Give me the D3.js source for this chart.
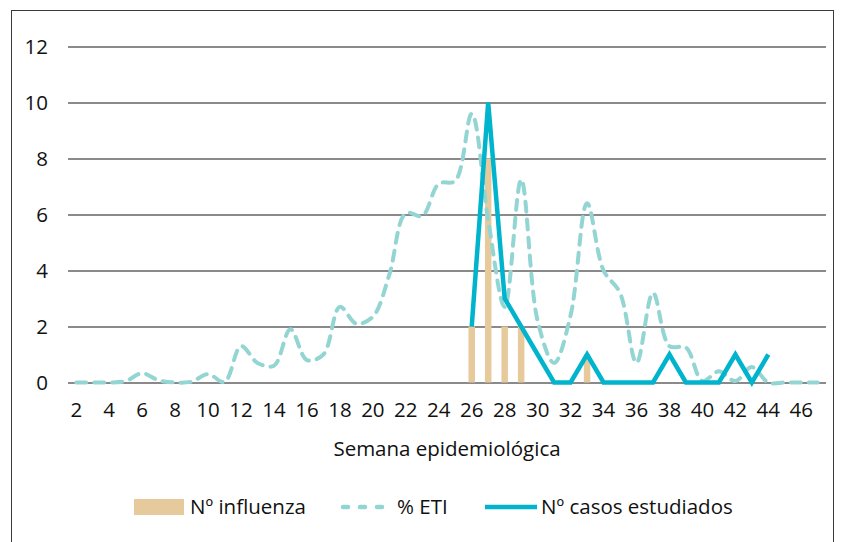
<!DOCTYPE html>
<html>
<head>
<meta charset="utf-8">
<script src="https://cdn.jsdelivr.net/npm/d3@7"></script>
<style>
  html, body { margin: 0; padding: 0; background: #fff; }
  svg { display: block; }
  text { font-family: "Open Sans", "Noto Sans", sans-serif; fill: #111; }
</style>
</head>
<body>
<svg id="chart" width="844" height="542"></svg>
<script>
// ---- data ----
const weeks = [2,3,4,5,6,7,8,9,10,11,12,13,14,15,16,17,18,19,20,21,22,23,24,25,26,27,28,29,30,31,32,33,34,35,36,37,38,39,40,41,42,43,44,45,46,47];
const weekTicks = [2,4,6,8,10,12,14,16,18,20,22,24,26,28,30,32,34,36,38,40,42,44,46];
const yTicks = [0,2,4,6,8,10,12];
const influenza = [null,null,null,null,null,null,null,null,null,null,null,null,null,null,null,null,null,null,null,null,null,null,null,null,
  2,8,2,2,0,0,0,1,0,0,0,0,0,0,0,0,0,0,0,null,null,null];
const eti = [0,0,0,0.05,0.33,0.08,0,0.03,0.3,0.02,1.3,0.7,0.6,1.9,0.8,1.0,2.7,2.1,2.35,3.85,6.05,5.95,7.1,7.2,
  9.6,5.8,2.7,7.25,2.2,0.7,2.4,6.4,4.0,3.2,0.7,3.2,1.3,1.25,0.05,0.4,0.05,0.55,0,0,0,0];
const casos = [null,null,null,null,null,null,null,null,null,null,null,null,null,null,null,null,null,null,null,null,null,null,null,null,
  2,10,3,2,1,0,0,1,0,0,0,0,1,0,0,0,1,0,1,null,null,null];
const seriesNames = ["Nº influenza", "% ETI", "Nº casos estudiados"];
const xTitle = "Semana epidemiológica";

(function () {
// ---- styles ----
const colBar = "#E6CA9C", colEti = "#93D5D3", colCasos = "#00B4CD";

const svg = d3.select("#chart");
const pLeft = 68, pRight = 826, pTop = 46.5, pBottom = 382.5;

// frame
svg.append("rect").attr("x", 11.5).attr("y", 10.5).attr("width", 822).attr("height", 600)
  .attr("fill", "none").attr("stroke", "#3a3a3a").attr("stroke-width", 1);

const x = d3.scaleBand().domain(weeks).range([pLeft, pRight]).paddingInner(0).paddingOuter(0);
const y = d3.scaleLinear().domain([0, 12]).range([pBottom, pTop]);
const cx = w => x(w) + x.bandwidth() / 2;

// y axis + gridlines
const yAxis = svg.append("g").attr("transform", `translate(${pLeft},0)`)
  .call(d3.axisLeft(y).tickValues(yTicks).tickSize(-(pRight - pLeft)).tickPadding(20).tickFormat(d3.format("d")));
yAxis.select(".domain").remove();
yAxis.selectAll("line").attr("stroke", "#8a8a8a").attr("stroke-width", 1.8);
yAxis.selectAll("text").style("font-size", "20.5px").attr("fill", "#111");

// x axis labels
const xAxis = svg.append("g").attr("transform", `translate(0,${pBottom})`)
  .call(d3.axisBottom(x).tickValues(weekTicks).tickSize(0).tickPadding(20));
xAxis.select(".domain").remove();
xAxis.selectAll("text").style("font-size", "20.5px").attr("fill", "#111");

// x title
svg.append("text").attr("x", 447).attr("y", 456).attr("text-anchor", "middle")
  .style("font-size", "20.5px").text(xTitle);

// bars
const barW = 6.5;
svg.append("g").selectAll("rect")
  .data(weeks.map((w, i) => ({w, v: influenza[i]})).filter(d => d.v))
  .join("rect")
  .attr("x", d => cx(d.w) - barW / 2).attr("width", barW)
  .attr("y", d => y(d.v)).attr("height", d => y(0) - y(d.v))
  .attr("fill", colBar);

// % ETI dashed smooth line
const etiLine = d3.line().x(d => cx(d.w)).y(d => y(d.v)).curve(d3.curveCatmullRom.alpha(0.5));
svg.append("path").datum(weeks.map((w, i) => ({w, v: eti[i]})))
  .attr("d", etiLine).attr("fill", "none").attr("stroke", colEti)
  .attr("stroke-width", 4).attr("stroke-dasharray", "10,8").attr("stroke-linecap", "round")
  .attr("stroke-linejoin", "round");

// casos solid line
const casosLine = d3.line().defined(d => d.v !== null).x(d => cx(d.w)).y(d => y(d.v));
svg.append("path").datum(weeks.map((w, i) => ({w, v: casos[i]})))
  .attr("d", casosLine).attr("fill", "none").attr("stroke", colCasos)
  .attr("stroke-width", 4.5).attr("stroke-linejoin", "miter");

// legend
const ly = 507;
const lg = svg.append("g");
lg.append("rect").attr("x", 134).attr("y", ly - 8).attr("width", 50).attr("height", 16).attr("fill", colBar);
lg.append("text").attr("x", 190).attr("y", ly).attr("dy", "0.35em").style("font-size", "20.5px").text(seriesNames[0]);
lg.append("line").attr("x1", 343).attr("x2", 389).attr("y1", ly).attr("y2", ly)
  .attr("stroke", colEti).attr("stroke-width", 4.5).attr("stroke-dasharray", "5,12").attr("stroke-linecap", "round");
lg.append("text").attr("x", 397).attr("y", ly).attr("dy", "0.35em").style("font-size", "20.5px").text(seriesNames[1]);
lg.append("line").attr("x1", 485).attr("x2", 537).attr("y1", ly).attr("y2", ly)
  .attr("stroke", colCasos).attr("stroke-width", 4.5);
lg.append("text").attr("x", 541).attr("y", ly).attr("dy", "0.35em").style("font-size", "20.5px").text(seriesNames[2]);
})();
</script>
</body>
</html>
